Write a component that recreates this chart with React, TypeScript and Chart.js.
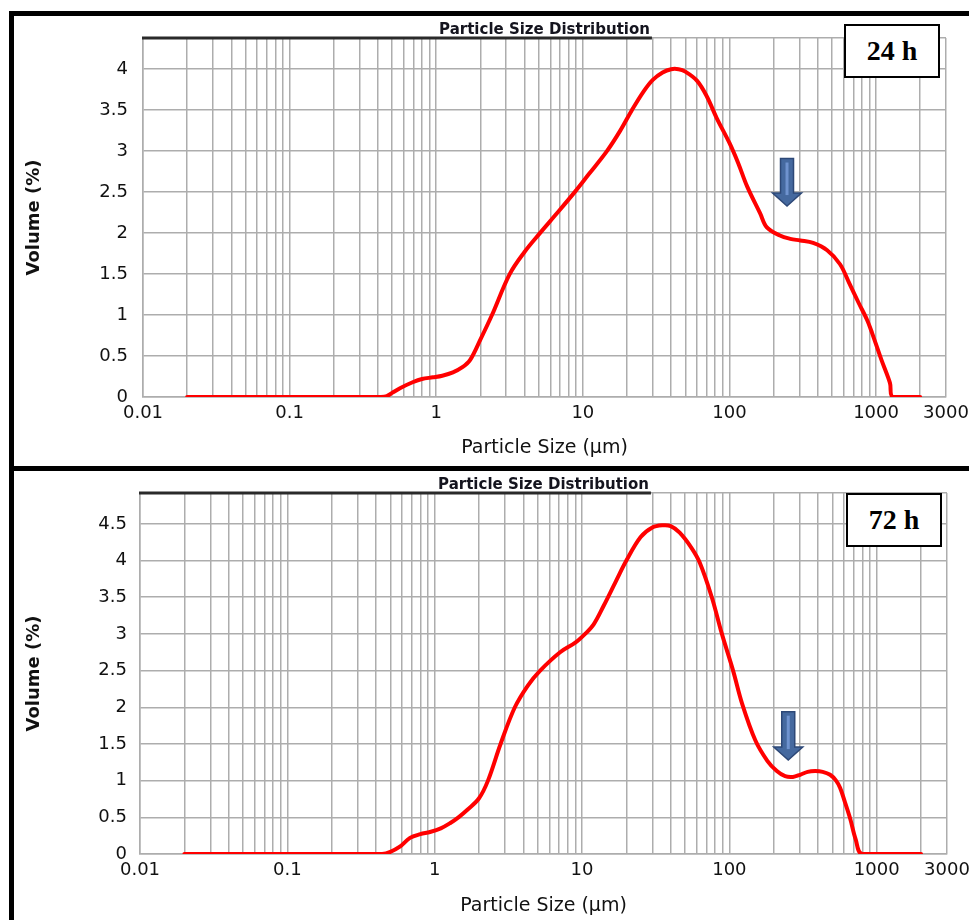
import React, { useEffect, useRef } from "react";
import { Chart, registerables } from "chart.js";
Chart.register(...registerables);

// ---- data ----
const titleText = "Particle Size Distribution";
const xTitle = "Particle Size (µm)";
const yTitle = "Volume (%)";

const sizes24 = [0.02, 0.1, 0.3, 0.42, 0.46, 0.5, 0.57, 0.69, 0.8, 0.95, 1.1, 1.3, 1.5, 1.7, 2.0, 2.4, 3.17, 4.0, 5.1, 6.5, 8.8, 11, 14.6, 18, 21.6, 26, 30, 35, 40, 45, 50, 60, 70, 82, 100, 115, 132, 162, 180, 221, 260, 304, 372, 464, 568, 660, 760, 869, 940, 1090, 1245, 1300, 2000];
const volume24 = [0, 0, 0, 0, 0.01, 0.05, 0.11, 0.18, 0.22, 0.24, 0.26, 0.3, 0.36, 0.45, 0.7, 1.0, 1.5, 1.77, 2.0, 2.22, 2.5, 2.72, 3.0, 3.25, 3.5, 3.73, 3.87, 3.96, 4.0, 4.0, 3.97, 3.86, 3.67, 3.4, 3.1, 2.85, 2.57, 2.24, 2.07, 1.97, 1.93, 1.91, 1.88, 1.79, 1.62, 1.38, 1.15, 0.94, 0.78, 0.45, 0.17, 0, 0];

const sizes72 = [0.02, 0.1, 0.3, 0.44, 0.5, 0.58, 0.68, 0.8, 0.93, 1.1, 1.27, 1.45, 1.66, 2.0, 2.3, 2.8, 3.5, 4.3, 5.2, 7.1, 9.0, 10.5, 12, 14, 17, 20, 25, 30, 35, 40, 46, 55, 63, 76, 89, 106, 122, 150, 181, 210, 239, 270, 302, 340, 382, 430, 483, 530, 565, 610, 661, 720, 796, 2000];
const volume72 = [0, 0, 0, 0, 0.03, 0.1, 0.22, 0.27, 0.3, 0.35, 0.42, 0.5, 0.6, 0.76, 1.0, 1.5, 2.0, 2.3, 2.5, 2.75, 2.88, 3.0, 3.13, 3.38, 3.72, 4.0, 4.32, 4.45, 4.48, 4.47, 4.38, 4.18, 3.97, 3.5, 3.0, 2.5, 2.05, 1.55, 1.27, 1.13, 1.06, 1.05, 1.08, 1.12, 1.13, 1.12, 1.08, 1.0, 0.9, 0.7, 0.48, 0.2, 0, 0];

const xTickLabels = [0.01, 0.1, 1, 10, 100, 1000, 3000];
const xDecades = [0.01, 0.1, 1, 10, 100];
const xMultipliers = [1, 2, 3, 4, 5, 6, 7, 8, 9];
const xExtraGrid = [1000, 2000, 3000];
const xMin = 0.01;
const xMax = 3000;

const yTicks24 = [0, 0.5, 1, 1.5, 2, 2.5, 3, 3.5, 4];
const yMax24 = 4.38;
const yTicks72 = [0, 0.5, 1, 1.5, 2, 2.5, 3, 3.5, 4, 4.5];
const yMax72 = 4.92;

// arrow: [size µm, top value, tip value]
const arrow24 = [247, 2.91, 2.33];
const arrow72 = [251, 1.94, 1.28];

const xGridValues: number[] = [];
xDecades.forEach((d) => xMultipliers.forEach((m) => xGridValues.push(+(d * m).toPrecision(3))));
xExtraGrid.forEach((v) => xGridValues.push(v));

const FONT = "'DejaVu Sans', sans-serif";
const GRID = "#adadad";

type Props = {
  sizes: number[];
  volumes: number[];
  yTicks: number[];
  yMax: number;
  arrow: number[];
  width: number;
  height: number;
  yAxisWidth: number;
  xAxisHeight: number;
  padRight: number;
  titlePadTop: number;
  xTitlePadBottom: number;
  yTickPad: number;
};

function PsdChart(p: Props) {
  const ref = useRef<HTMLCanvasElement | null>(null);
  useEffect(() => {
    if (!ref.current) return;
    const decor = {
      id: "decor",
      afterDraw(chart: any) {
        const { ctx, chartArea, scales } = chart;
        ctx.save();
        ctx.font = `bold 15px ${FONT}`;
        const tw = ctx.measureText(titleText).width;
        const cx = (chartArea.left + chartArea.right) / 2;
        ctx.strokeStyle = "#2a2a2a";
        ctx.lineWidth = 3;
        ctx.beginPath();
        ctx.moveTo(chartArea.left - 1, chartArea.top);
        ctx.lineTo(cx + tw / 2 + 2, chartArea.top);
        ctx.stroke();

        const x = scales.x.getPixelForValue(p.arrow[0]);
        const yTop = scales.y.getPixelForValue(p.arrow[1]);
        const yTip = scales.y.getPixelForValue(p.arrow[2]);
        const headLen = 13;
        const sh = 6.5;
        const hh = 14.5;
        ctx.beginPath();
        ctx.moveTo(x - sh, yTop);
        ctx.lineTo(x + sh, yTop);
        ctx.lineTo(x + sh, yTip - headLen);
        ctx.lineTo(x + hh, yTip - headLen);
        ctx.lineTo(x, yTip);
        ctx.lineTo(x - hh, yTip - headLen);
        ctx.lineTo(x - sh, yTip - headLen);
        ctx.closePath();
        ctx.fillStyle = "#45699f";
        ctx.fill();
        ctx.strokeStyle = "#2d4877";
        ctx.lineWidth = 1.5;
        ctx.stroke();
        ctx.fillStyle = "#6f93cf";
        ctx.fillRect(x - 1.5, yTop + 4, 3, yTip - headLen - yTop - 2);
        ctx.restore();
      },
    };
    const chart = new Chart(ref.current, {
      type: "line",
      data: {
        datasets: [
          {
            data: p.sizes.map((s, i) => ({ x: s, y: p.volumes[i] })),
            borderColor: "#ff0000",
            borderWidth: 4,
            pointRadius: 0,
            tension: 0.35,
            borderCapStyle: "round",
            borderJoinStyle: "round",
            fill: false,
          },
        ],
      },
      options: {
        responsive: false,
        animation: false,
        layout: { padding: { left: 0, right: p.padRight, top: 0, bottom: 0 } },
        plugins: {
          legend: { display: false },
          tooltip: { enabled: false },
          title: {
            display: true,
            text: titleText,
            fullSize: false,
            color: "#14141e",
            font: { family: FONT, size: 15, weight: "bold", lineHeight: 1.07 },
            padding: { top: p.titlePadTop, bottom: 0 },
          },
        },
        scales: {
          x: {
            type: "logarithmic",
            min: xMin,
            max: xMax,
            afterBuildTicks: (scale: any) => {
              scale.ticks = xGridValues.map((v) => ({ value: v }));
            },
            afterFit: (scale: any) => {
              scale.height = p.xAxisHeight;
              scale.paddingLeft = 0;
              scale.paddingRight = 0;
            },
            ticks: {
              autoSkip: false,
              maxRotation: 0,
              padding: 6,
              color: "#111",
              font: { family: FONT, size: 18, lineHeight: 1.2 },
              callback: (v: any) => (xTickLabels.some((t) => Math.abs(t - v) < 1e-9 * Math.max(1, t)) ? String(v) : ""),
            },
            grid: { color: GRID, lineWidth: 1.5, drawTicks: false },
            border: { display: true, color: GRID, width: 1.5 },
            title: {
              display: true,
              text: xTitle,
              color: "#111",
              font: { family: FONT, size: 19, lineHeight: 1.2 },
              padding: { top: 0, bottom: p.xTitlePadBottom },
            },
          },
          y: {
            type: "linear",
            min: 0,
            max: p.yMax,
            afterBuildTicks: (scale: any) => {
              scale.ticks = [...p.yTicks, p.yMax].map((v) => ({ value: v }));
            },
            afterFit: (scale: any) => {
              scale.width = p.yAxisWidth;
              scale.paddingTop = 0;
              scale.paddingBottom = 0;
            },
            ticks: {
              autoSkip: false,
              padding: p.yTickPad,
              color: "#111",
              font: { family: FONT, size: 18, lineHeight: 1.2 },
              callback: (v: any) => (p.yTicks.includes(v) ? String(v) : ""),
            },
            grid: { color: GRID, lineWidth: 1.5, drawTicks: false },
            border: { display: true, color: GRID, width: 1.5 },
            title: {
              display: true,
              text: yTitle,
              color: "#111",
              font: { family: FONT, size: 18, weight: "bold", lineHeight: 1.2 },
              padding: { top: 10, bottom: 0 },
            },
          },
        },
      },
      plugins: [decor],
    } as any);
    return () => chart.destroy();
  }, []);
  return <canvas ref={ref} width={p.width} height={p.height} style={{ display: "block", width: p.width, height: p.height }} />;
}

const boxStyle: React.CSSProperties = {
  position: "absolute",
  boxSizing: "border-box",
  width: 96,
  height: 54,
  border: "2px solid #000",
  background: "#fff",
  display: "flex",
  alignItems: "center",
  justifyContent: "center",
  fontFamily: "'Liberation Serif', serif",
  fontWeight: "bold",
  fontSize: 28,
  color: "#000",
};

export default function App() {
  return (
    <div style={{ position: "fixed", left: 0, top: 0, width: 969, height: 920, overflow: "hidden", background: "#fff" }}>
      <div style={{ position: "absolute", left: 9, top: 11, width: 1100, height: 460, boxSizing: "border-box", border: "5px solid #000" }} />
      <div style={{ position: "absolute", left: 9, top: 466, width: 1100, height: 500, boxSizing: "border-box", border: "5px solid #000" }} />
      <div style={{ position: "absolute", left: 14, top: 16 }}>
        <PsdChart
          sizes={sizes24}
          volumes={volume24}
          yTicks={yTicks24}
          yMax={yMax24}
          arrow={arrow24}
          width={955}
          height={450}
          yAxisWidth={129}
          xAxisHeight={69}
          padRight={23}
          titlePadTop={6}
          xTitlePadBottom={7}
          yTickPad={15}
        />
      </div>
      <div style={{ position: "absolute", left: 14, top: 471 }}>
        <PsdChart
          sizes={sizes72}
          volumes={volume72}
          yTicks={yTicks72}
          yMax={yMax72}
          arrow={arrow72}
          width={955}
          height={449}
          yAxisWidth={126}
          xAxisHeight={66}
          padRight={22}
          titlePadTop={6}
          xTitlePadBottom={3}
          yTickPad={13}
        />
      </div>
      <div style={{ ...boxStyle, left: 844, top: 24 }}>24 h</div>
      <div style={{ ...boxStyle, left: 846, top: 493 }}>72 h</div>
    </div>
  );
}
